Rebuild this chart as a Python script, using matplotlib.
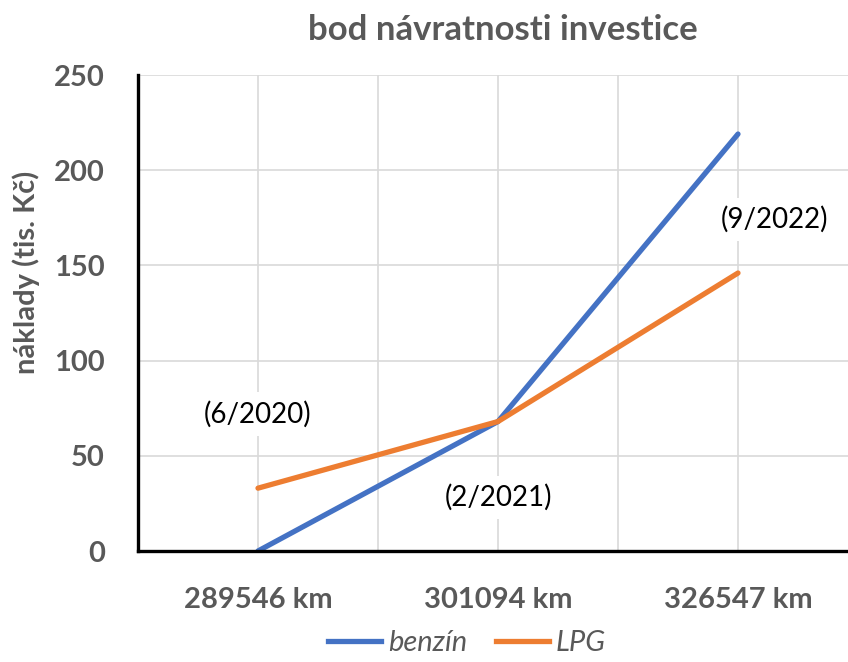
import matplotlib
matplotlib.use("Agg")
import matplotlib.pyplot as plt
from matplotlib.lines import Line2D

categories = ["289546 km", "301094 km", "326547 km"]
benzin = [0, 68, 219]
lpg = [33, 68, 146]
labels = ["(6/2020)", "(2/2021)", "(9/2022)"]
label_y = [72, 28, 174]
label_dx = [0, 0, 0.15]
yticks = [0, 50, 100, 150, 200, 250]

plt.rcParams['font.family'] = ['Lato', 'DejaVu Sans']
grey = '#595959'

fig = plt.figure(figsize=(8.48, 6.62), dpi=100)
ax = fig.add_axes([138/848, 1-551/662, 1-138/848, (551-75)/662])

x = list(range(len(categories)))
ax.plot(x, benzin, color='#4472C4', lw=3.8, solid_capstyle='round', zorder=3)
ax.plot(x, lpg, color='#ED7D31', lw=3.8, solid_capstyle='round', zorder=3)

ax.set_xlim(-0.5, (848-258)/240)
ax.set_ylim(0, 250)
ax.set_yticks(yticks)
ax.set_xticks(x)
ax.set_xticklabels(categories)
ax.set_xticks([0.5, 1.5], minor=True)
ax.grid(True, which='both', color='#d9d9d9', lw=1.2, zorder=0)
ax.tick_params(which='both', length=0)
ax.tick_params(axis='x', pad=26, labelsize=21, labelcolor=grey)
ax.tick_params(axis='y', pad=24, labelsize=21, labelcolor=grey)
for t in ax.get_xticklabels() + ax.get_yticklabels():
    t.set_fontweight('bold')
for s in ['top', 'right']:
    ax.spines[s].set_visible(False)
for s in ['left', 'bottom']:
    ax.spines[s].set_linewidth(2.4)
    ax.spines[s].set_color('black')
    ax.spines[s].set_zorder(4)

for i, (lab, yy, dx) in enumerate(zip(labels, label_y, label_dx)):
    ax.text(i + dx, yy, lab, ha='center', va='center', fontsize=20, color='black',
            bbox=dict(facecolor='white', edgecolor='none', pad=6), zorder=2)

ax.set_ylabel('náklady (tis. Kč)', fontsize=21, fontweight='bold', color=grey)
ax.yaxis.set_label_coords(-(138-40)/710, (551-272)/476)
fig.text(503/848, 1-30/662, 'bod návratnosti investice', ha='center', va='center',
         fontsize=25, fontweight='bold', color=grey)

handles = [Line2D([0], [0], color='#4472C4', lw=3.8),
           Line2D([0], [0], color='#ED7D31', lw=3.8)]
leg = fig.legend(handles, ['benzín', 'LPG'], loc='center', bbox_to_anchor=(467/848, 1-643/662),
                 ncol=2, frameon=False, fontsize=21, handlelength=1.8, handletextpad=0.25,
                 columnspacing=1.0, borderpad=0.2)
for t in leg.get_texts():
    t.set_fontstyle('italic')
    t.set_color(grey)

fig.savefig('out.png', dpi=100)
